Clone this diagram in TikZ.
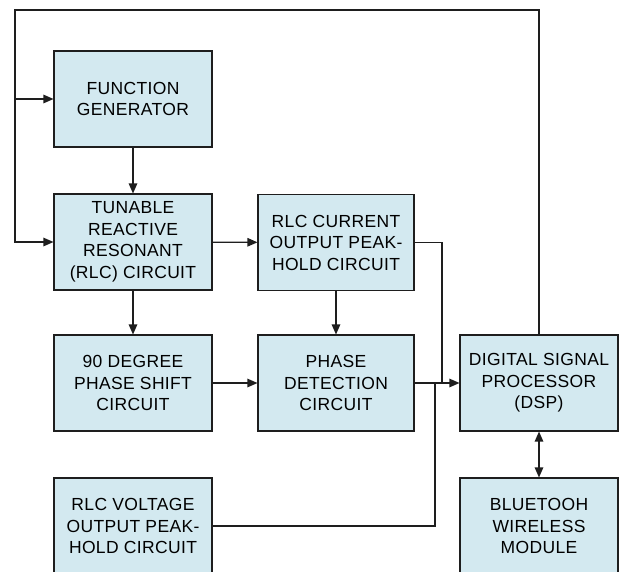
\documentclass[tikz,border=0pt]{standalone}
\usepackage{fontspec}
\setmainfont[LetterSpace=2]{Liberation Sans}
\usetikzlibrary{arrows.meta}
\definecolor{boxfill}{RGB}{211,233,240}
\definecolor{edgecol}{RGB}{30,30,30}
\tikzset{
  blk/.style={draw=edgecol, line width=1.1pt, fill=boxfill, minimum width=158pt, minimum height=96pt,
    inner sep=0pt, align=center, font=\fontsize{17.5}{21.5}\selectfont},
  conn/.style={draw=edgecol, line width=1.2pt},
  arr/.style={conn, -{Triangle[length=10pt,width=8.5pt]}},
  darr/.style={conn, {Triangle[length=10pt,width=8.5pt]}-{Triangle[length=10pt,width=8.5pt]}}
}
\begin{document}
\begin{tikzpicture}[x=1pt,y=-1pt]
\useasboundingbox (0,0) rectangle (620,571);
\clip (0,0) rectangle (620,571);
\fill[white] (0,0) rectangle (620,571);
\node[blk] (fg) at (133,99) {FUNCTION\\GENERATOR};
\node[blk] (tun) at (133,242) {TUNABLE\\REACTIVE\\RESONANT\\(RLC) CIRCUIT};
\node[blk, minimum width=156pt] (rlcc) at (336,242.5) {RLC CURRENT\\OUTPUT PEAK-\\HOLD CIRCUIT};
\node[blk] (deg) at (133,383) {90 DEGREE\\PHASE SHIFT\\CIRCUIT};
\node[blk, minimum width=156pt] (ph) at (336,383) {PHASE\\DETECTION\\CIRCUIT};
\node[blk] (dsp) at (539,383) {DIGITAL SIGNAL\\PROCESSOR\\(DSP)};
\node[blk] (rlcv) at (133,526) {RLC VOLTAGE\\OUTPUT PEAK-\\HOLD CIRCUIT};
\node[blk] (bt) at (539,526) {BLUETOOH\\WIRELESS\\MODULE};
\coordinate (tr) at (539,10);
\coordinate (tl) at (15,10);
\coordinate (j1) at (442,383);
\coordinate (j2) at (435,383);
\draw[arr] (fg) -- (tun);
\draw[arr] (tun) -- (rlcc);
\draw[arr] (tun) -- (deg);
\draw[arr] (rlcc) -- (ph);
\draw[arr] (deg) -- (ph);
\draw[arr] (ph) -- (dsp);
\draw[conn] (rlcc.east) -| (j1);
\draw[conn] (rlcv.east) -| (j2);
\draw[arr] (dsp.north) -- (tr) -- (tl) |- (tun.west);
\draw[arr] (tl |- fg.west) -- (fg.west);
\draw[darr] (dsp) -- (bt);
\end{tikzpicture}
\end{document}
